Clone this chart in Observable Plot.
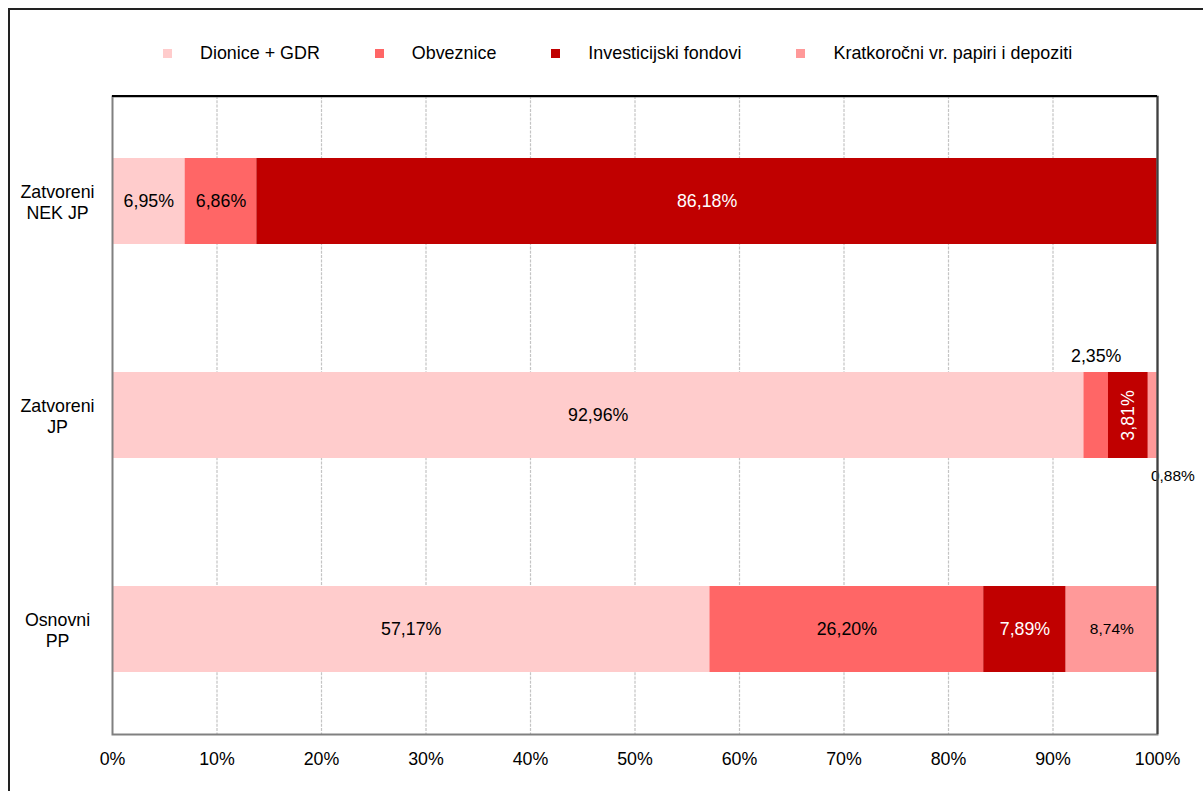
<!DOCTYPE html>
<html>
<head>
<meta charset="utf-8">
<script src="https://cdn.jsdelivr.net/npm/d3@7"></script>
<script src="https://cdn.jsdelivr.net/npm/@observablehq/plot@0.6"></script>
<style>
  html, body { margin: 0; padding: 0; background: #fff; }
  #wrap { position: relative; width: 1203px; height: 791px; overflow: hidden; font-family: "Liberation Sans", Arial, sans-serif; }
  #outer { position: absolute; left: 8px; top: 8px; width: 1300px; height: 900px; border-left: 2px solid #222; border-top: 2px solid #222; }
  #legend { position: absolute; left: 163px; top: 43px; display: flex; align-items: center; font-size: 17.9px; color: #000; white-space: nowrap; }
  .item { display: flex; align-items: center; margin-right: 55px; }
  .sw { width: 9px; height: 9px; margin-right: 28px; }
  #chart { position: absolute; left: 0; top: 0; }
</style>
</head>
<body>
<div id="wrap">
  <div id="outer"></div>
  <div id="legend"></div>
  <div id="chart"></div>
</div>
<script>
const categories = ["Zatvoreni\nNEK JP", "Zatvoreni\nJP", "Osnovni\nPP"];
const series = ["Dionice + GDR", "Obveznice", "Investicijski fondovi", "Kratkoročni vr. papiri i depoziti"];
const colors = ["#FFCCCC", "#FF6666", "#C00000", "#FF9999"];
const nekValues = [6.95, 6.86, 86.18, 0];
const zjpValues = [92.96, 2.35, 3.81, 0.88];
const ppValues = [57.17, 26.20, 7.89, 8.74];
const xTicks = [0, 10, 20, 30, 40, 50, 60, 70, 80, 90, 100];
const gridTicks = xTicks.filter(t => t > 0 && t < 100);

const valuesByCat = [nekValues, zjpValues, ppValues];
const rows = [];
categories.forEach((c, i) => series.forEach((s, j) => rows.push({cat: c, series: s, value: valuesByCat[i][j]})));

const fmt = v => v.toFixed(2).replace(".", ",") + "%";
const dark = "Investicijski fondovi";
const kr = "Kratkoročni vr. papiri i depoziti";

const lbl = cond => d => (d.value > 0 && cond(d)) ? fmt(d.value) : "";
const st = (cond) => Plot.stackX({x: "value", y: "cat", z: "series", text: lbl(cond)});

// legend
const leg = document.getElementById("legend");
series.forEach((s, i) => {
  const it = document.createElement("div"); it.className = "item";
  const sw = document.createElement("div"); sw.className = "sw"; sw.style.background = colors[i];
  const tx = document.createElement("span"); tx.textContent = s;
  it.appendChild(sw); it.appendChild(tx); leg.appendChild(it);
});

const plot = Plot.plot({
  width: 1203,
  height: 791,
  marginLeft: 112,
  marginRight: 46,
  marginTop: 96,
  marginBottom: 57,
  style: {fontFamily: "Liberation Sans, Arial, sans-serif", fontSize: "17.8px", color: "#000", background: "transparent"},
  x: {domain: [0, 100], ticks: xTicks, tickFormat: d => d + "%", label: null},
  y: {domain: categories, paddingInner: 0.6, paddingOuter: 0.29, label: null},
  color: {domain: series, range: colors},
  marks: [
    Plot.ruleX(gridTicks, {stroke: "#c4c4c4", strokeWidth: 1.2, strokeDasharray: "3,1.3"}),
    Plot.barX(rows, Plot.stackX({x: "value", y: "cat", z: "series", fill: "series"})),
    Plot.text(rows, st(d => d.series !== dark && d.series !== kr && d.value >= 3)),
    Plot.text(rows, {...st(d => d.series !== dark && d.series !== kr && d.value < 3), dy: -59}),
    Plot.text(rows, {...st(d => d.series === dark && d.value >= 5), fill: "white"}),
    Plot.text(rows, {...st(d => d.series === dark && d.value < 5), fill: "white", rotate: -90}),
    Plot.text(rows, {...st(d => d.series === kr && d.value >= 3), fontSize: 15.5}),
    Plot.text(rows, {...st(d => d.series === kr && d.value < 3), fontSize: 15.5, textAnchor: "start", dx: -2, dy: 61}),
    Plot.frame({stroke: "#808080", strokeWidth: 2}),
    Plot.ruleX([100], {stroke: "#404040", strokeWidth: 2}),
    Plot.axisX({ticks: xTicks, tickFormat: d => d + "%", tickSize: 0, tickPadding: 18, fontSize: 17.8, label: null}),
    Plot.axisY({tickSize: 0, textAnchor: "middle", dx: -46, lineHeight: 1.2, fontSize: 17.8, label: null})
  ]
});
document.getElementById("chart").appendChild(plot);
// thin black top edge of plot frame
const topLine = document.createElement("div");
topLine.style.cssText = "position:absolute;left:112px;top:95px;width:1045px;height:1.5px;background:#000;";
document.getElementById("wrap").appendChild(topLine);
</script>
</body>
</html>
